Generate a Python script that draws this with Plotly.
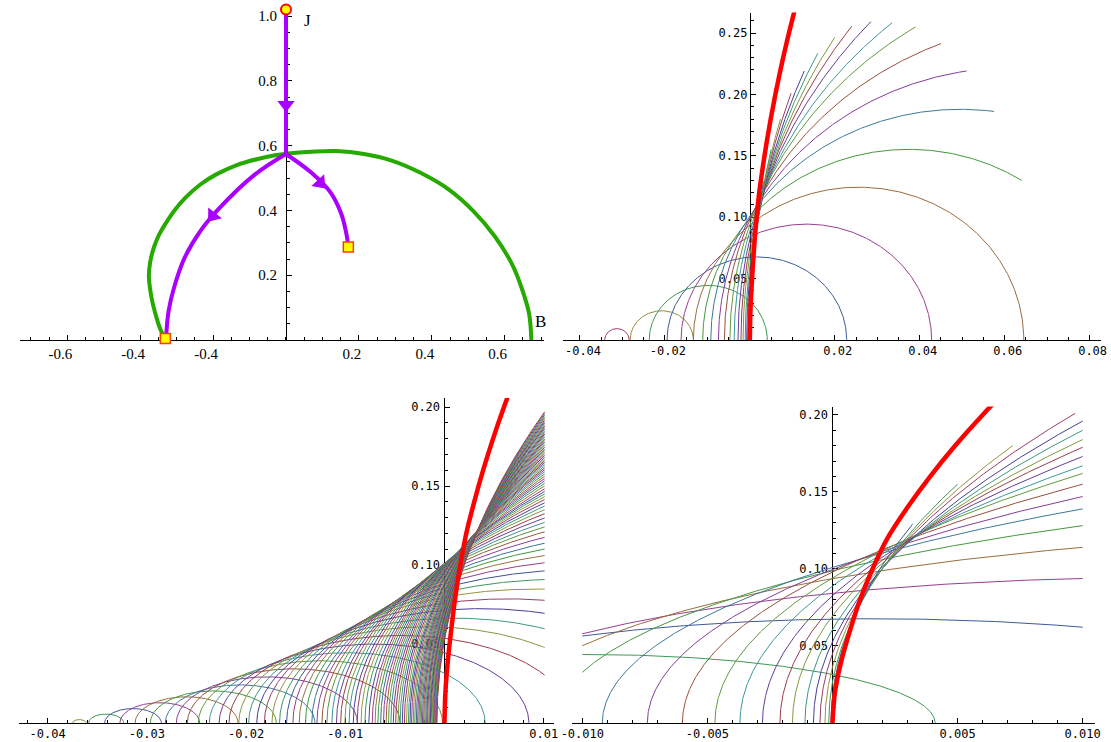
import colorsys
import numpy as np
import plotly.graph_objects as go

W, H = 1111, 742

# ---------------- top-left panel ----------------
GREEN_X = [-0.331, -0.347, -0.358, -0.367, -0.373, -0.376, -0.375, -0.370, -0.361, -0.348,
           -0.330, -0.306, -0.275, -0.235, -0.190, -0.135, -0.080, -0.030, 0.020, 0.070,
           0.137, 0.214, 0.292, 0.369, 0.446, 0.514, 0.572, 0.620, 0.649, 0.667, 0.673]
GREEN_Y = [0.0, 0.04, 0.08, 0.12, 0.16, 0.19, 0.22, 0.255, 0.29, 0.325,
           0.36, 0.40, 0.44, 0.48, 0.512, 0.540, 0.558, 0.570, 0.577, 0.581,
           0.583, 0.574, 0.553, 0.516, 0.465, 0.398, 0.321, 0.234, 0.152, 0.08, 0.0]
STEM_X = [0.0, 0.0]
STEM_Y = [1.02, 0.574]
LEFT_X = [0.0, -0.085, -0.186, -0.235, -0.278, -0.307, -0.322, -0.329]
LEFT_Y = [0.574, 0.511, 0.403, 0.336, 0.254, 0.162, 0.09, 0.008]
RIGHT_X = [0.0, 0.070, 0.123, 0.152, 0.166, 0.171]
RIGHT_Y = [0.574, 0.516, 0.454, 0.388, 0.326, 0.287]
ARROW_X = [0.0, -0.201, 0.094]
ARROW_Y = [0.726, 0.383, 0.485]
ARROW_TURN = [0, 38, -42]
START_X = [0.0]
START_Y = [1.02]
STOP_X = [-0.331, 0.171]
STOP_Y = [0.005, 0.287]
TAG_TEXT = ["J", "B"]
TAG_X = [0.060, 0.697]
TAG_Y = [0.985, 0.058]

# ---------------- family of arcs (top-right and bottom-right panels) ----------------
# each arc: left foot on the x axis, one point it passes through, and the x where it stops
FOOT = [-0.0342, -0.0282, -0.0237, -0.0195, -0.0162, -0.0133, -0.0111, -0.0092, -0.0074,
        -0.0060, -0.0047, -0.0037, -0.0028, -0.0021, -0.0016, -0.0011, -0.00076, -0.0005,
        -0.0003, -0.00015, -0.00006]
THRU_X = [-0.0284, -0.0133, 0.0041, 0.0228, 0.0428, 0.0645, 0.064, 0.010, 0.010, 0.010, 0.010,
          0.010, 0.010, 0.010, 0.010, 0.010, 0.010, 0.0097, 0.0072, 0.0050, 0.0032]
THRU_Y = [0.0, 0.0, 0.0, 0.0, 0.0, 0.0, 0.130, 0.139, 0.147, 0.155, 0.162, 0.167, 0.173, 0.179,
          0.184, 0.190, 0.196, 0.201, 0.180, 0.155, 0.129]
STOP_AT = [-0.0284, -0.0133, 0.0041, 0.0228, 0.0428, 0.0645, 0.064, 0.0575, 0.051, 0.045, 0.039,
           0.0335, 0.0285, 0.024, 0.020, 0.016, 0.0128, 0.0097, 0.0072, 0.0050, 0.0032]
FIRST_COLOR = 1

# bottom-left panel: denser sampling of the same family (arc centres)
BL_CENTRE = [-0.0368, -0.0341, -0.0314, -0.0287, -0.0260, -0.0233, -0.0206, -0.0179, -0.0152,
             -0.0125, -0.0098, -0.0071, -0.0044, -0.0017, 0.0010, 0.0037, 0.0064, 0.0091,
             0.0118, 0.0145, 0.0172, 0.0199, 0.0226, 0.0253, 0.0280, 0.0307, 0.0334, 0.0361,
             0.0388, 0.0415, 0.0442, 0.0469, 0.0496, 0.0523, 0.0550, 0.0577, 0.0604, 0.0631,
             0.0658, 0.0685, 0.0712, 0.0739, 0.0766, 0.0793, 0.0820, 0.0847, 0.0874, 0.0901,
             0.0928, 0.0955, 0.0982, 0.1009, 0.1036, 0.1063, 0.1090, 0.1117, 0.1144, 0.1171,
             0.1198, 0.1225, 0.1252, 0.1279, 0.1306, 0.1333, 0.1360, 0.1387, 0.1414, 0.1441,
             0.1468, 0.1495, 0.1522, 0.1549, 0.1576, 0.1603, 0.1630, 0.1657, 0.1684, 0.1711,
             0.1738, 0.1765, 0.1792]
BL_FIRST_COLOR = 2
FAMILY_ORIGIN = -0.0385   # where the arcs shrink to nothing
STRETCH = 3.2             # vertical stretch of the arcs

# plotted x window of the thin curves in the two lower panels
BL_WINDOW = (-1.0, 0.0101)
BR_WINDOW = (-0.0100, 0.0100)

# thick red curve (same in three panels)
RED_Y = [0.0, 0.02, 0.04, 0.06, 0.08, 0.10, 0.12, 0.14, 0.16, 0.18, 0.20, 0.22, 0.24, 0.268]
RED_X = [0.0, 0.0001, 0.00035, 0.0007, 0.0011, 0.0016, 0.0022, 0.0030, 0.0039, 0.0049, 0.0060,
         0.0072, 0.0085, 0.0105]

# ---------------- helpers ----------------
def mcolor(k):
    h = (0.67 + 0.236068 * k) % 1.0
    r, g, b = colorsys.hsv_to_rgb(h, 0.6, 0.6)
    return "rgb(%d,%d,%d)" % (round(r * 255), round(g * 255), round(b * 255))


def centre_of(foot, tx, ty, s):
    Y = ty / s
    return (tx * tx + Y * Y - foot * foot) / (2.0 * (tx - foot))


def arc(c, foot, xlo, xhi, s, n=300):
    a = c - foot
    t0 = np.arccos(np.clip((xlo - c) / a, -1.0, 1.0))
    t1 = np.arccos(np.clip((xhi - c) / a, -1.0, 1.0))
    if t1 >= t0:
        return None
    th = np.linspace(t0, t1, n)
    return c + a * np.cos(th), s * a * np.sin(th)


fig = go.Figure()


def axname(n):
    return ("x" if n == 1 else "x%d" % n), ("y" if n == 1 else "y%d" % n)


def add_line(n, x, y, color, width, shape="linear"):
    xa, ya = axname(n)
    fig.add_trace(go.Scatter(x=x, y=y, mode="lines", xaxis=xa, yaxis=ya,
                             line=dict(color=color, width=width, shape=shape),
                             hoverinfo="skip", showlegend=False))


# ---------------- panel 1 : top-left ----------------
GREEN = "rgb(38,170,0)"
PURPLE = "rgb(170,0,255)"
add_line(1, GREEN_X, GREEN_Y, GREEN, 4, "spline")
add_line(1, STEM_X, STEM_Y, PURPLE, 4)
add_line(1, LEFT_X, LEFT_Y, PURPLE, 4, "spline")
add_line(1, RIGHT_X, RIGHT_Y, PURPLE, 4, "spline")
fig.add_trace(go.Scatter(x=ARROW_X, y=ARROW_Y, mode="markers", xaxis="x", yaxis="y",
                         marker=dict(symbol="triangle-down", size=15, color=PURPLE,
                                     angle=ARROW_TURN, line=dict(width=0)),
                         hoverinfo="skip", showlegend=False))
fig.add_trace(go.Scatter(x=START_X, y=START_Y, mode="markers", xaxis="x", yaxis="y", cliponaxis=False,
                         marker=dict(symbol="circle", size=10, color="yellow",
                                     line=dict(color="red", width=2)),
                         hoverinfo="skip", showlegend=False))
fig.add_trace(go.Scatter(x=STOP_X, y=STOP_Y, mode="markers", xaxis="x", yaxis="y", cliponaxis=False,
                         marker=dict(symbol="square", size=10, color="yellow",
                                     line=dict(color="rgb(255,60,0)", width=1.5)),
                         hoverinfo="skip", showlegend=False))

# ---------------- family arcs ----------------
fam_c, fam_f = [FAMILY_ORIGIN], [FAMILY_ORIGIN]
for i in range(len(FOOT)):
    fam_c.append(centre_of(FOOT[i], THRU_X[i], THRU_Y[i], STRETCH))
    fam_f.append(FOOT[i])

for n, win in ((2, (-1.0, 1.0)), (4, BR_WINDOW)):
    for i in range(len(FOOT)):
        c = fam_c[i + 1]
        pts = arc(c, FOOT[i], win[0], min(STOP_AT[i], win[1]), STRETCH)
        if pts is not None:
            add_line(n, pts[0], pts[1], mcolor(FIRST_COLOR + i), 1)
    add_line(n, RED_X, RED_Y, "red", 4.5, "spline")

# bottom-left
for j, c in enumerate(BL_CENTRE):
    foot = float(np.interp(c, fam_c, fam_f))
    a = c - foot
    pts = arc(c, foot, BL_WINDOW[0], min(c + a, BL_WINDOW[1]), STRETCH)
    if pts is not None:
        add_line(3, pts[0], pts[1], mcolor(BL_FIRST_COLOR + j), 1)
add_line(3, RED_X, RED_Y, "red", 4.5, "spline")

# ---------------- axes ----------------
SERIF = dict(family="Liberation Serif", size=15, color="black")
MONO = dict(family="DejaVu Sans Mono", size=12, color="black")


def minor_vals(lo, hi, step):
    k0 = int(np.ceil(lo / step - 1e-9))
    k1 = int(np.floor(hi / step + 1e-9))
    return [round(k * step, 6) for k in range(k0, k1 + 1)]


def set_axes(n, xpx, ypx, xr, yr, xt, xtt, yt, ytt, xminor, yminor, font, xshift=0, ystand=0):
    xdom = [xpx[0] / W, xpx[1] / W]
    ydom = [1 - ypx[0] / H, 1 - ypx[1] / H]
    pos = xdom[0] + (0 - xr[0]) / (xr[1] - xr[0]) * (xdom[1] - xdom[0])
    xa, ya = axname(n)
    common = dict(showline=True, linecolor="black", linewidth=1, ticks="inside", ticklen=5,
                  tickwidth=1, tickcolor="black", showgrid=False, zeroline=False, tickfont=font,
                  layer="below traces", fixedrange=True)
    fig.layout["xaxis" if n == 1 else "xaxis%d" % n] = dict(
        domain=xdom, range=xr, anchor=ya, tickmode="array", tickvals=xt, ticktext=xtt,
        ticklabelshift=xshift,
        minor=dict(tickmode="array", tickvals=minor_vals(xr[0], xr[1], xminor), ticks="inside",
                   ticklen=3, tickcolor="black", tickwidth=1), **common)
    fig.layout["yaxis" if n == 1 else "yaxis%d" % n] = dict(
        domain=ydom, range=yr, anchor="free", position=pos, tickmode="array", tickvals=yt,
        ticktext=ytt, ticklabelstandoff=ystand,
        minor=dict(tickmode="array", tickvals=minor_vals(yr[0], yr[1], yminor), ticks="inside",
                   ticklen=3, tickcolor="black", tickwidth=1), **common)


set_axes(1, (8, 540), (340, 5), [-0.730, 0.707], [0, 1.034],
         [-0.6, -0.4, -0.2, 0.2, 0.4, 0.6], ["-0.6", "-0.4", "-0.4", "0.2", "0.4", "0.6"],
         [0.2, 0.4, 0.6, 0.8, 1.0], ["0.2", "0.4", "0.6", "0.8", "1.0"], 0.05, 0.05, SERIF,
         xshift=-7, ystand=6)
set_axes(2, (560, 1106), (340, 12.5), [-0.0439, 0.0827], [0, 0.2668],
         [-0.04, -0.02, 0.02, 0.04, 0.06, 0.08], ["-0.04", "-0.02", "0.02", "0.04", "0.06", "0.08"],
         [0.05, 0.10, 0.15, 0.20, 0.25], ["0.05", "0.10", "0.15", "0.20", "0.25"], 0.005, 0.01, MONO,
         xshift=3)
set_axes(3, (7, 550), (723, 398), [-0.0429, 0.0110], [0, 0.2057],
         [-0.04, -0.03, -0.02, -0.01, 0.01], ["-0.04", "-0.03", "-0.02", "-0.01", "0.01"],
         [0.05, 0.10, 0.15, 0.20], ["0.05", "0.10", "0.15", "0.20"], 0.002, 0.01, MONO, ystand=2)
set_axes(4, (569, 1100), (723, 406.6), [-0.0104, 0.0105], [0, 0.2054],
         [-0.010, -0.005, 0.005, 0.010], ["-0.010", "-0.005", "0.005", "0.010"],
         [0.05, 0.10, 0.15, 0.20], ["0.05", "0.10", "0.15", "0.20"], 0.001, 0.01, MONO, ystand=2)

for t, x, y in zip(TAG_TEXT, TAG_X, TAG_Y):
    fig.add_annotation(x=x, y=y, xref="x", yref="y", text=t, showarrow=False,
                       font=dict(family="Liberation Serif", size=17, color="black"))

fig.update_layout(width=W, height=H, margin=dict(l=0, r=0, t=0, b=0),
                  paper_bgcolor="white", plot_bgcolor="rgba(0,0,0,0)", showlegend=False)
fig.write_html("out.html")
